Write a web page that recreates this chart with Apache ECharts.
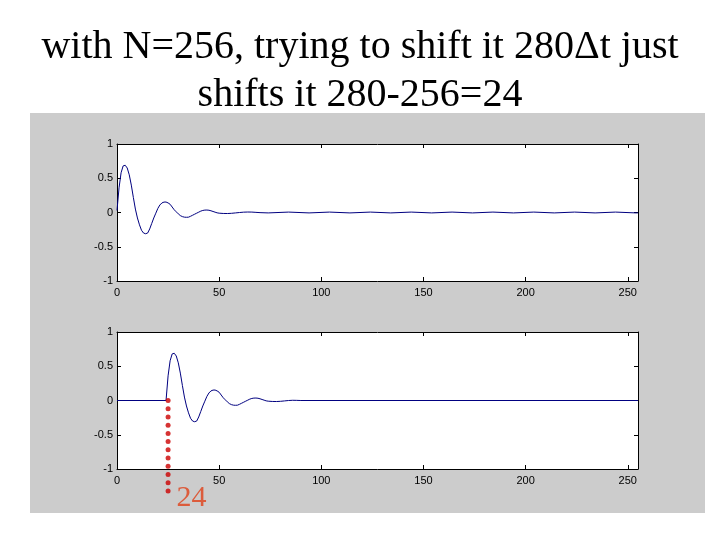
<!DOCTYPE html>
<html>
<head>
<meta charset="utf-8">
<script src="https://cdn.jsdelivr.net/npm/echarts@6/dist/echarts.min.js"></script>
<style>
  html, body { margin: 0; padding: 0; background: #ffffff; }
  #chart { width: 720px; height: 540px; }
</style>
</head>
<body>
<div id="chart"></div>
<script>
// ---- data ----
var titleLines = ['with N=256, trying to shift it 280\u0394t just', 'shifts it 280-256=24'];
var xTicks = [0, 50, 100, 150, 200, 250];
var yTicks = [-1, -0.5, 0, 0.5, 1];

// top panel: original signal (sample index, amplitude)
var topT = [0,1,2,3,4,5,6,7,8,9,10,11,12,13,14,15,16,17,18,19,20,21,22,23,24,25,26,27,28,29,30,
            31,32,33,34,35,36,37,38,39,40,41,42,43,44,45,46,47,48,49,50,52,54,56,58,60,62,64,66,68,70,
            74,84,94,104,114,124,134,144,154,164,174,184,194,204,214,224,234,244,254,255];
var topV = [0.03,0.36,0.58,0.68,0.69,0.65,0.55,0.40,0.22,0.05,-0.08,-0.18,-0.26,-0.30,-0.31,-0.30,-0.24,-0.16,-0.08,-0.01,0.06,
            0.11,0.14,0.152,0.153,0.14,0.12,0.08,0.04,0.01,-0.02,
            -0.045,-0.06,-0.068,-0.07,-0.068,-0.055,-0.04,-0.025,-0.01,0.005,0.02,0.03,0.035,0.036,0.033,0.025,0.015,0.005,-0.005,-0.01,
            -0.014,-0.015,-0.012,-0.006,0.0,0.005,0.007,0.006,0.002,-0.002,
            -0.006,0.006,-0.006,0.006,-0.006,0.006,-0.006,0.006,-0.006,0.006,-0.006,0.006,-0.006,0.006,-0.006,0.006,-0.006,0.006,-0.006,-0.005];

// bottom panel: circularly shifted signal
var botT = [0,23,24,25,26,27,28,29,30,31,32,33,34,35,36,37,38,39,40,41,42,43,44,45,46,47,48,49,50,51,52,53,54,
            55,56,57,58,59,60,61,62,63,64,65,66,67,68,69,70,71,72,73,74,76,78,80,82,84,86,88,90,255];
var botV = [0,0,0.0,0.36,0.58,0.68,0.69,0.65,0.55,0.40,0.22,0.05,-0.08,-0.18,-0.26,-0.30,-0.31,-0.30,-0.24,-0.16,-0.08,-0.01,0.06,
            0.11,0.14,0.152,0.153,0.14,0.12,0.08,0.04,0.01,-0.02,
            -0.045,-0.06,-0.068,-0.07,-0.068,-0.055,-0.04,-0.025,-0.01,0.005,0.02,0.03,0.035,0.036,0.033,0.025,0.015,0.005,-0.005,-0.01,
            -0.014,-0.015,-0.012,-0.006,0.0,0.003,0.002,0.0,0];

// annotation: dotted marker at the shift
var shiftLabel = '24';
var markerX = 25;
var markerY = [0,-0.12,-0.24,-0.36,-0.48,-0.6,-0.72,-0.84,-0.96,-1.08,-1.2,-1.32];

function pairs(t, v) { return t.map(function (x, i) { return [x, v[i]]; }); }

var chart = echarts.init(document.getElementById('chart'), null, { renderer: 'canvas' });

var lineCol = '#000080';
var sansFont = 'Liberation Sans';

function xAx(gi, pos, labels) {
  return {
    type: 'value', gridIndex: gi, position: pos, min: 0, max: 255, interval: 50,
    axisLine: { show: true, onZero: false, lineStyle: { color: '#000', width: 1 } },
    axisTick: { show: true, inside: true, length: 4, lineStyle: { color: '#000' } },
    axisLabel: labels ? {
      show: true, color: '#000', fontSize: 11, fontFamily: sansFont, margin: 6,
      formatter: function (v) { return xTicks.indexOf(v) >= 0 ? String(v) : ''; }
    } : { show: false },
    splitLine: { show: false }
  };
}
function yAx(gi, pos, labels) {
  return {
    type: 'value', gridIndex: gi, position: pos, min: -1, max: 1, interval: 0.5,
    axisLine: { show: true, onZero: false, lineStyle: { color: '#000', width: 1 } },
    axisTick: { show: true, inside: true, length: 4, lineStyle: { color: '#000' } },
    axisLabel: labels ? {
      show: true, color: '#000', fontSize: 11, fontFamily: sansFont, margin: 4,
      formatter: function (v) { return yTicks.indexOf(v) >= 0 ? String(v) : ''; }
    } : { show: false },
    splitLine: { show: false }
  };
}

var option = {
  animation: false,
  backgroundColor: '#ffffff',
  title: {
    text: titleLines.join('\n'),
    left: 'center', top: 18,
    textStyle: { fontFamily: 'Liberation Serif', fontSize: 40, fontWeight: 'normal', color: '#000', lineHeight: 48, align: 'center' }
  },
  graphic: [{
    type: 'rect', z: -10, silent: true,
    shape: { x: 30, y: 113, width: 675, height: 400 },
    style: { fill: '#cccccc' }
  }],
  grid: [
    { left: 117, top: 144, width: 521, height: 137, show: true, backgroundColor: '#ffffff', borderWidth: 0 },
    { left: 117, top: 332, width: 521, height: 137, show: true, backgroundColor: '#ffffff', borderWidth: 0 }
  ],
  xAxis: [xAx(0, 'bottom', true), xAx(0, 'top', false), xAx(1, 'bottom', true), xAx(1, 'top', false)],
  yAxis: [yAx(0, 'left', true), yAx(0, 'right', false), yAx(1, 'left', true), yAx(1, 'right', false)],
  series: [
    {
      type: 'line', xAxisIndex: 0, yAxisIndex: 0, data: pairs(topT, topV),
      showSymbol: false, symbol: 'none', lineStyle: { color: lineCol, width: 1 }
    },
    {
      type: 'line', xAxisIndex: 2, yAxisIndex: 2, data: pairs(botT, botV),
      showSymbol: false, symbol: 'none', lineStyle: { color: lineCol, width: 1 }
    },
    {
      type: 'scatter', xAxisIndex: 2, yAxisIndex: 2, clip: false, z: 5,
      symbol: 'circle', symbolSize: 5,
      itemStyle: { color: '#cc0000' },
      data: markerY.map(function (y, i) {
        var d = { value: [markerX, y] };
        if (i === markerY.length - 1) {
          d.label = {
            show: true, position: 'right', distance: 6, offset: [0, 7],
            formatter: shiftLabel, fontFamily: 'Liberation Serif', fontSize: 30, color: '#e04018'
          };
        }
        return d;
      })
    }
  ]
};
chart.setOption(option);
</script>
</body>
</html>
